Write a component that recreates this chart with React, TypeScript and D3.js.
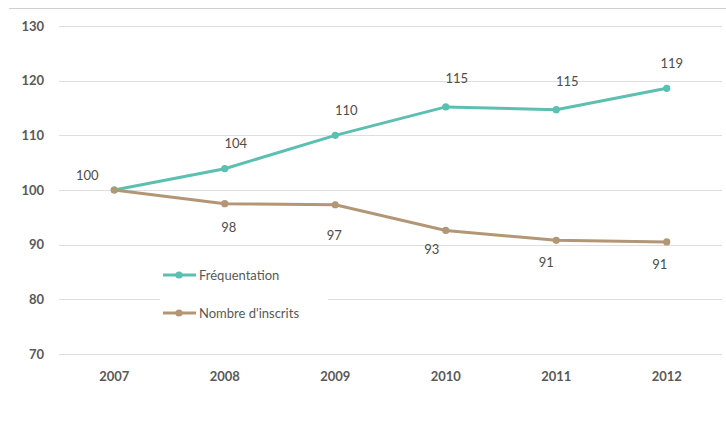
import React from "react";
import * as d3 from "d3";

const years = ["2007", "2008", "2009", "2010", "2011", "2012"];
const frequentation = [100, 103.9, 110.0, 115.2, 114.7, 118.6];
const inscrits = [100, 97.5, 97.3, 92.6, 90.8, 90.5];
const yTicks = [70, 80, 90, 100, 110, 120, 130];
const seriesNames = ["Fréquentation", "Nombre d'inscrits"];
// label offsets (relative to point)
const freqLabelDx = [-27, 11, 11, 11, 11, 5];
const freqLabelDy = [-10, -21, -20, -24, -24, -20];
const inscLabelDx = [0, 4, -1, -14, -10, -7];
const inscLabelDy = [0, 28, 35, 24, 27, 27];

const W = 726;
const H = 424;
const COL_F = "#5bbfb1";
const COL_I = "#b39675";

export default function App() {
  const x = d3.scaleBand<string>().domain(years).range([59, 722]);
  const y = d3.scaleLinear().domain([70, 130]).range([354, 26]);
  const cx = (i: number) => (x(years[i]) as number) + x.bandwidth() / 2;
  const line = d3
    .line<number>()
    .x((_, i) => cx(i))
    .y((d) => y(d));
  const font = "Lato, 'Open Sans', sans-serif";

  return (
    <svg
      width={W}
      height={H}
      style={{ position: "absolute", left: 0, top: 0, background: "#fff" }}
      fontFamily={font}
    >
      <rect x={0} y={0} width={W} height={H} fill="#fff" />
      <line x1={9} x2={W} y1={8.5} y2={8.5} stroke="#d0d0d0" strokeWidth={1} />
      {yTicks.map((t) => (
        <g key={t}>
          <line
            x1={59}
            x2={722}
            y1={Math.round(y(t)) + 0.5}
            y2={Math.round(y(t)) + 0.5}
            stroke="#dedede"
            strokeWidth={1}
          />
          <text
            x={44}
            y={y(t)}
            dy="0.35em"
            textAnchor="end"
            fontSize={13}
            fontWeight="bold"
            fill="#595959"
          >
            {t}
          </text>
        </g>
      ))}
      {years.map((yr, i) => (
        <text
          key={yr}
          x={cx(i)}
          y={381}
          textAnchor="middle"
          fontSize={13}
          fontWeight="bold"
          fill="#595959"
        >
          {yr}
        </text>
      ))}
      <path d={line(frequentation) || ""} fill="none" stroke={COL_F} strokeWidth={3} />
      <path d={line(inscrits) || ""} fill="none" stroke={COL_I} strokeWidth={3} />
      {frequentation.map((v, i) => (
        <circle key={"f" + i} cx={cx(i)} cy={y(v)} r={3.6} fill={COL_F} />
      ))}
      {inscrits.map((v, i) => (
        <circle key={"i" + i} cx={cx(i)} cy={y(v)} r={3.6} fill={COL_I} />
      ))}
      {frequentation.map((v, i) => (
        <text
          key={"fl" + i}
          x={cx(i) + freqLabelDx[i]}
          y={y(v) + freqLabelDy[i]}
          textAnchor="middle"
          fontSize={13}
          fill="#4d4d4d"
        >
          {Math.round(v)}
        </text>
      ))}
      {inscrits.map((v, i) =>
        i === 0 ? null : (
          <text
            key={"il" + i}
            x={cx(i) + inscLabelDx[i]}
            y={y(v) + inscLabelDy[i]}
            textAnchor="middle"
            fontSize={13}
            fill="#4d4d4d"
          >
            {Math.round(v)}
          </text>
        )
      )}
      <rect x={160} y={258} width={168} height={70} fill="#fff" />
      {seriesNames.map((n, i) => {
        const ly = 275 + i * 38;
        const c = i === 0 ? COL_F : COL_I;
        return (
          <g key={n}>
            <line x1={163} x2={196} y1={ly} y2={ly} stroke={c} strokeWidth={3} />
            <circle cx={179} cy={ly} r={3.6} fill={c} />
            <text x={199} y={ly} dy="0.35em" fontSize={13} fill="#595959">
              {n}
            </text>
          </g>
        );
      })}
    </svg>
  );
}
